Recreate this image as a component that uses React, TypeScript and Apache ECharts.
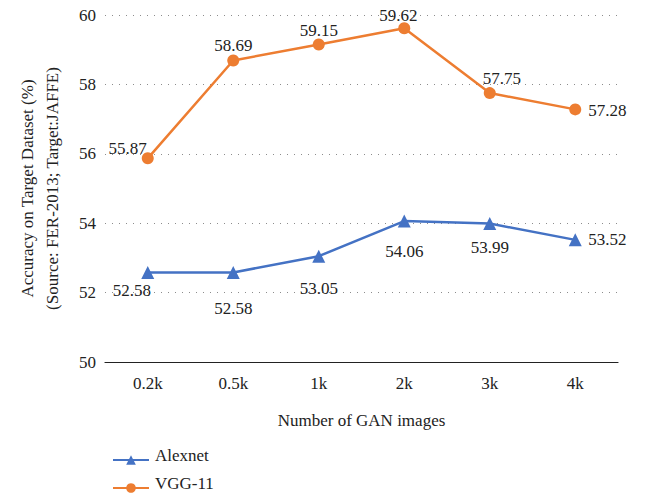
import React, { useEffect, useRef } from "react";
import * as echarts from "echarts";

const categories = ["0.2k", "0.5k", "1k", "2k", "3k", "4k"];
const yTicks = [50, 52, 54, 56, 58, 60];
const alexnet = [52.58, 52.58, 53.05, 54.06, 53.99, 53.52];
const vgg11 = [55.87, 58.69, 59.15, 59.62, 57.75, 57.28];

// label placement (styling only): [dx, dy, align]
const alexLabelLayout: [number, number, string][] = [
  [-16, 18, "center"], [0, 36, "center"], [0, 32, "center"],
  [0, 30, "center"], [0, 24, "center"], [13, 0, "left"],
];
const vggLabelLayout: [number, number, string][] = [
  [-1, -10, "right"], [0, -15, "center"], [0, -14, "center"],
  [-6, -13, "center"], [12, -15, "center"], [13, 1, "left"],
];

const FAM = "serif";
const INK = "#222";

function txt(text: string, x: number, y: number, align: string) {
  return {
    type: "text",
    x,
    y,
    silent: true,
    style: {
      text,
      fontFamily: FAM,
      fontSize: 17,
      fill: INK,
      align,
      verticalAlign: "middle",
    },
  };
}

export default function App() {
  const ref = useRef<HTMLDivElement>(null);
  useEffect(() => {
    const chart = echarts.init(ref.current!, null, { renderer: "svg" });
    chart.setOption({
      animation: false,
      grid: { left: 105, right: 31, top: 15, bottom: 132 },
      legend: [
        {
          left: 107, top: 449, itemWidth: 36, itemHeight: 12,
          formatter: () => "", data: ["Alexnet"],
        },
        {
          left: 107, top: 477, itemWidth: 36, itemHeight: 12,
          formatter: () => "", data: ["VGG-11"],
        },
      ],
      xAxis: {
        type: "category",
        data: categories,
        name: "Number of GAN images",
        nameLocation: "middle",
        nameGap: 50,
        nameTextStyle: { fontFamily: FAM, fontSize: 17, color: INK },
        axisLine: { lineStyle: { color: "#222", width: 1.2 } },
        axisTick: { show: false },
        axisLabel: { show: false },
      },
      yAxis: {
        type: "value",
        min: 50,
        max: 60,
        interval: 2,
        name: "Accuracy on Target Dataset (%)\n(Source: FER-2013; Target:JAFFE)",
        nameLocation: "middle",
        nameGap: 40,
        nameTextStyle: { fontFamily: FAM, fontSize: 17, color: INK, lineHeight: 25 },
        axisLine: { show: false },
        axisTick: { show: false },
        axisLabel: { show: false },
        splitLine: { lineStyle: { type: [1, 6], color: "#8c8c8c", width: 1 } },
      },
      series: [
        {
          name: "Alexnet",
          type: "line",
          data: alexnet,
          symbol: "triangle",
          symbolSize: 13,
          lineStyle: { color: "#4472C4", width: 2.5 },
          itemStyle: { color: "#4472C4" },
        },
        {
          name: "VGG-11",
          type: "line",
          data: vgg11,
          symbol: "circle",
          symbolSize: 12,
          lineStyle: { color: "#ED7D31", width: 2.5 },
          itemStyle: { color: "#ED7D31" },
        },
      ],
    });

    const g: any[] = [];
    const baseY = chart.convertToPixel({ yAxisIndex: 0 }, 50) as number;
    categories.forEach((c) => {
      const px = chart.convertToPixel({ xAxisIndex: 0 }, c) as number;
      g.push(txt(c, px, baseY + 21, "center"));
    });
    yTicks.forEach((v) => {
      const py = chart.convertToPixel({ yAxisIndex: 0 }, v) as number;
      g.push(txt(String(v), 96, py, "right"));
    });
    alexnet.forEach((v, i) => {
      const [px, py] = chart.convertToPixel({ seriesIndex: 0 }, [i, v]) as number[];
      const [dx, dy, al] = alexLabelLayout[i];
      g.push(txt(v.toFixed(2), px + dx, py + dy, al));
    });
    vgg11.forEach((v, i) => {
      const [px, py] = chart.convertToPixel({ seriesIndex: 1 }, [i, v]) as number[];
      const [dx, dy, al] = vggLabelLayout[i];
      g.push(txt(v.toFixed(2), px + dx, py + dy, al));
    });
    g.push(txt("Alexnet", 155, 455, "left"));
    g.push(txt("VGG-11", 155, 483, "left"));
    chart.setOption({ graphic: g });

    return () => chart.dispose();
  }, []);
  return <div ref={ref} style={{ width: 649, height: 494, position: "absolute", left: 0, top: 0 }} />;
}
